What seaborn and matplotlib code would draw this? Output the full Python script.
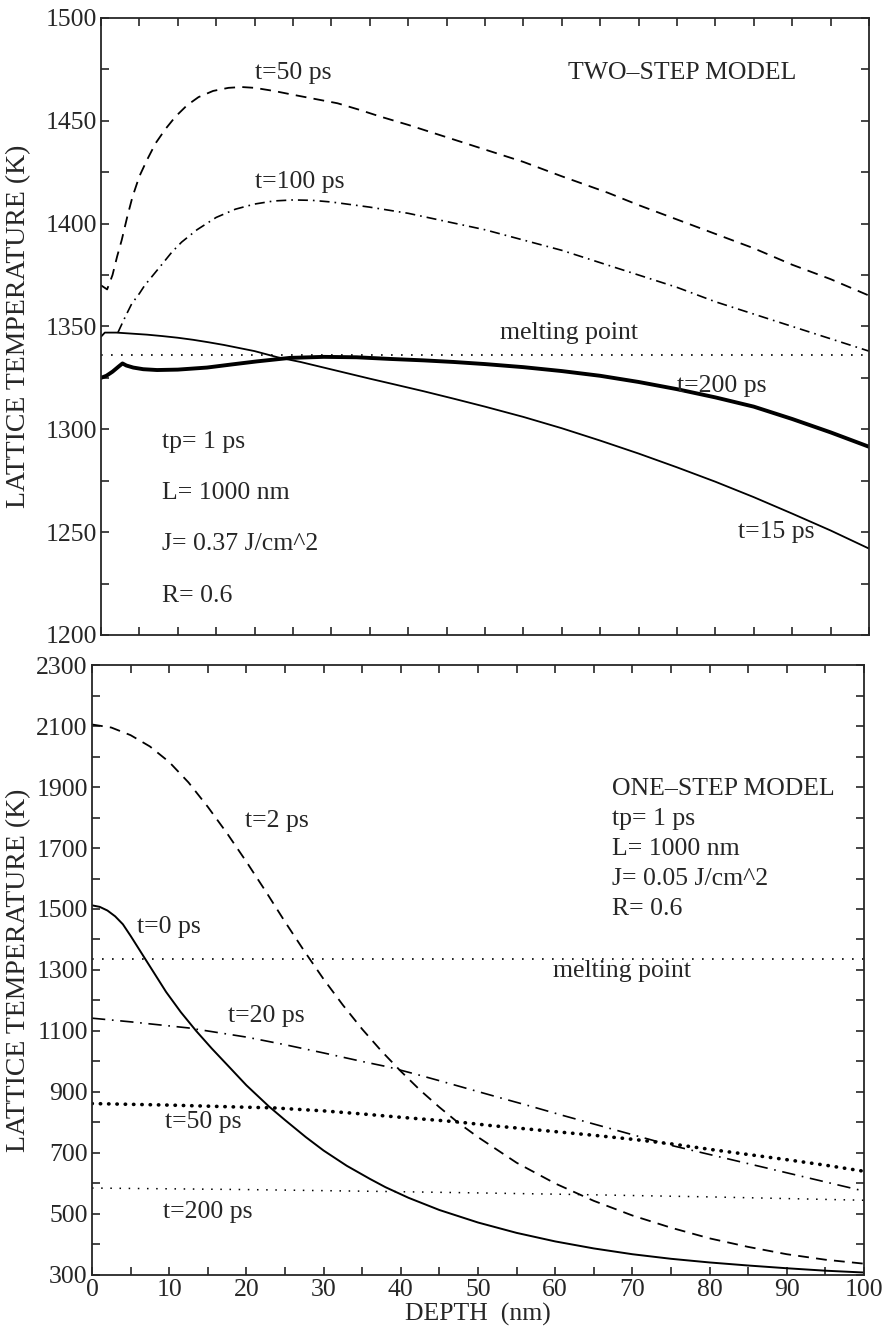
import matplotlib
matplotlib.use("Agg")
import matplotlib.pyplot as plt
from matplotlib.ticker import MultipleLocator, FixedLocator
import seaborn as sns

# ---- top panel: two-step model ----
depth_50_top = [0, 0.8, 1.5, 2.1, 2.7, 3.4, 4.1, 5, 6, 7.1, 8.4, 9.7, 11.2, 12.7, 14.6, 16.6,
                18.3, 20, 22.5, 25.2, 28, 30.8, 33.5, 36.4, 40, 45, 50, 55, 60, 66, 70, 75,
                80, 85, 90, 95, 100]
temp_50_top = [1370, 1368, 1375, 1384, 1392, 1403, 1413, 1423, 1431, 1439, 1446, 1452, 1457.5,
               1461.5, 1464.5, 1466, 1466.4, 1466, 1464.5, 1462.5, 1460.5, 1458.5, 1455.5,
               1452, 1448, 1442, 1436, 1430, 1423, 1415, 1409, 1402, 1395, 1388, 1380, 1373, 1365]

depth_100_top = [2.2, 3.2, 4, 5, 5.7, 6.8, 7.9, 9.2, 10.5, 12.5, 15, 17.5, 20, 22.5, 25, 27.5,
                 30, 35, 40, 45, 50, 55, 60, 65, 70, 75, 80, 85, 90, 95, 100]
temp_100_top = [1347, 1355, 1361, 1366, 1370, 1375, 1380, 1386, 1391, 1397, 1403, 1407, 1409.5,
                1411, 1411.5, 1411.3, 1410.5, 1408, 1405, 1401, 1397, 1392, 1387, 1381, 1375,
                1369, 1362, 1356, 1350, 1344, 1338]

depth_15_top = [0, 0.5, 2, 4, 6, 8, 10, 12, 14, 16, 18, 20, 23, 26, 29, 32, 35, 38, 42, 46, 50,
                55, 60, 65, 70, 75, 80, 85, 90, 95, 100]
temp_15_top = [1345, 1347, 1347, 1346.5, 1346, 1345.3, 1344.5, 1343.5, 1342.3, 1341, 1339.5,
               1338, 1335, 1332.7, 1330, 1327.3, 1324.6, 1322, 1318.5, 1314.8, 1311, 1306,
               1300.5, 1294.5, 1288.2, 1281.5, 1274.5, 1267, 1259, 1250.8, 1242]

depth_200_top = [0, 0.7, 1.5, 2.3, 2.8, 3.3, 4.2, 5.5, 7.3, 10, 13.8, 17, 20.3, 24.6, 29, 33.3,
                 37.6, 42, 46, 50, 55, 60, 65, 70, 75, 80, 85, 90, 95, 100]
temp_200_top = [1325, 1326, 1328, 1330.5, 1332, 1331, 1330, 1329.2, 1328.8, 1329, 1330, 1331.5,
                1333, 1334.7, 1335.2, 1335, 1334.2, 1333.5, 1332.7, 1331.7, 1330.2, 1328.3,
                1326, 1323, 1319.5, 1315.5, 1311, 1305, 1298.5, 1291.5]

melt_depth = [0, 100]
melt_temp = [1336, 1336]

# ---- bottom panel: one-step model ----
depth_2_bot = [0, 2.5, 5, 7.5, 10, 12.5, 15, 17.5, 20, 22.5, 25, 27.5, 30, 32.5, 35, 37.5, 40,
               42.5, 45, 47.5, 50, 55, 60, 65, 70, 75, 80, 85, 90, 95, 100]
temp_2_bot = [2105, 2095, 2070, 2033, 1982, 1915, 1835, 1748, 1655, 1558, 1458, 1362, 1270,
              1185, 1106, 1034, 968, 906, 850, 798, 752, 668, 600, 543, 495, 455, 420, 392,
              368, 350, 337]

depth_0_bot = [0, 1, 2, 3, 4, 5, 6.1, 7.5, 8.5, 9.6, 11.5, 13.5, 15.5, 17.7, 20, 22.9, 25,
               27.7, 30, 33, 36, 38, 41, 45, 50, 55, 60, 65, 70, 75, 80, 85, 90, 95, 100]
temp_0_bot = [1512, 1507, 1495, 1476, 1450, 1412, 1368, 1312, 1272, 1228, 1162, 1100, 1043,
              984, 922, 853, 808, 752, 708, 658, 615, 588, 553, 513, 472, 438, 410, 387, 368,
              353, 341, 331, 322, 314, 308]

depth_20_bot = [0, 5, 12.5, 20, 25, 30, 35, 38.4, 42, 45, 49.2, 53, 57, 61, 65, 70, 75, 80, 85,
                90, 95, 100]
temp_20_bot = [1142, 1130, 1110, 1080, 1055, 1028, 1000, 982, 958, 937, 907, 880, 852, 823, 795,
               760, 725, 695, 665, 635, 605, 575]

depth_50_bot = [0, 10, 20, 23.4, 30, 35, 40, 47.3, 51.6, 55, 60, 65, 70, 75, 80, 85, 90, 95, 100]
temp_50_bot = [862, 857, 850, 848, 838, 828, 817, 802, 790, 782, 770, 758, 745, 730, 712, 695,
               678, 660, 640]

depth_200_bot = [0, 20, 40, 60, 80, 100]
temp_200_bot = [585, 580, 573, 565, 556, 545]

yticks_top = [1200, 1250, 1300, 1350, 1400, 1450, 1500]
yticks_bot = [300, 500, 700, 900, 1100, 1300, 1500, 1700, 1900, 2100, 2300]
xticks = [0, 10, 20, 30, 40, 50, 60, 70, 80, 90, 100]

params_top = ["tp= 1 ps", "L= 1000 nm", "J= 0.37 J/cm^2", "R= 0.6"]
params_bot = ["ONE\u2013STEP MODEL", "tp= 1 ps", "L= 1000 nm", "J= 0.05 J/cm^2", "R= 0.6"]

sns.set_style("ticks")
plt.rcParams['font.family'] = ['Liberation Serif', 'DejaVu Serif']
plt.rcParams['axes.linewidth'] = 1.3

fig = plt.figure(figsize=(8.82, 13.37), dpi=100)
ax1 = fig.add_axes([0.1145, 0.5251, 0.8707, 0.4615])
ax2 = fig.add_axes([0.1043, 0.0464, 0.8753, 0.4562])


def curve(ax, x, y, lw, ls, **kw):
    sns.lineplot(x=x, y=y, ax=ax, color='black', lw=lw, linestyle=ls,
                 errorbar=None, sort=False, **kw)


dotted_thin = (0, (1, 5))

# top panel curves
curve(ax1, depth_50_top, temp_50_top, 1.3, (0, (6, 4)))
curve(ax1, depth_100_top, temp_100_top, 1.2, (0, (6, 3, 1, 3)))
curve(ax1, depth_15_top, temp_15_top, 1.3, '-')
curve(ax1, depth_200_top, temp_200_top, 2.8, '-')
curve(ax1, melt_depth, melt_temp, 1.2, dotted_thin)

# bottom panel curves
curve(ax2, depth_2_bot, temp_2_bot, 1.3, (0, (6, 4)))
curve(ax2, depth_0_bot, temp_0_bot, 1.4, '-')
curve(ax2, depth_20_bot, temp_20_bot, 1.2, (0, (8, 4, 1, 4)))
curve(ax2, depth_50_bot, temp_50_bot, 2.6, (0, (0.1, 2.2)), dash_capstyle='round')
curve(ax2, depth_200_bot, temp_200_bot, 1.1, dotted_thin)
curve(ax2, melt_depth, melt_temp, 1.2, dotted_thin)

fs = 18.5
for ax in (ax1, ax2):
    ax.set_xlim(0, 100)
    ax.xaxis.set_major_locator(FixedLocator(xticks))
    ax.xaxis.set_minor_locator(MultipleLocator(5))
    ax.tick_params(which='both', direction='in', top=True, right=True,
                   length=6, width=1.2, labelsize=fs, pad=3)
    ax.set_ylabel("LATTICE TEMPERATURE (K)", fontsize=20)
    ax.set_xlabel("")

# both y labels sit at the same page column (right edge ~31 px)
ax1.yaxis.set_label_coords(-0.091, 0.5)
ax2.yaxis.set_label_coords(-0.079, 0.5)

ax1.set_ylim(1200, 1500)
ax1.yaxis.set_major_locator(FixedLocator(yticks_top))
ax1.yaxis.set_minor_locator(MultipleLocator(25))
ax1.tick_params(labelbottom=False)

ax2.set_ylim(300, 2300)
ax2.yaxis.set_major_locator(FixedLocator(yticks_bot))
ax2.yaxis.set_minor_locator(MultipleLocator(100))
ax2.set_xlabel("DEPTH  (nm)", fontsize=fs, labelpad=1)

# top annotations
ax1.text(20, 1473, "t=50 ps", fontsize=fs, va='center')
ax1.text(20, 1420, "t=100 ps", fontsize=fs, va='center')
ax1.text(90.5, 1473, "TWO\u2013STEP MODEL", fontsize=fs, va='center', ha='right')
ax1.text(61, 1347, "melting point", fontsize=fs, va='center', ha='center')
ax1.text(75, 1321, "t=200 ps", fontsize=fs, va='center')
ax1.text(83, 1250, "t=15 ps", fontsize=fs, va='center')
for i, s in enumerate(params_top):
    ax1.text(8, 1294 - 25 * i, s, fontsize=fs, va='center')

# bottom annotations
ax2.text(19.8, 1790, "t=2 ps", fontsize=fs, va='center')
ax2.text(5.8, 1440, "t=0 ps", fontsize=fs, va='center')
ax2.text(17.6, 1150, "t=20 ps", fontsize=fs, va='center')
ax2.text(9.5, 800, "t=50 ps", fontsize=fs, va='center')
ax2.text(9.2, 505, "t=200 ps", fontsize=fs, va='center')
ax2.text(59.7, 1296, "melting point", fontsize=fs, va='center')
for i, s in enumerate(params_bot):
    ax2.text(67.4, 1892 - 98 * i, s, fontsize=fs, va='center')

fig.savefig("out.png", dpi=100)
